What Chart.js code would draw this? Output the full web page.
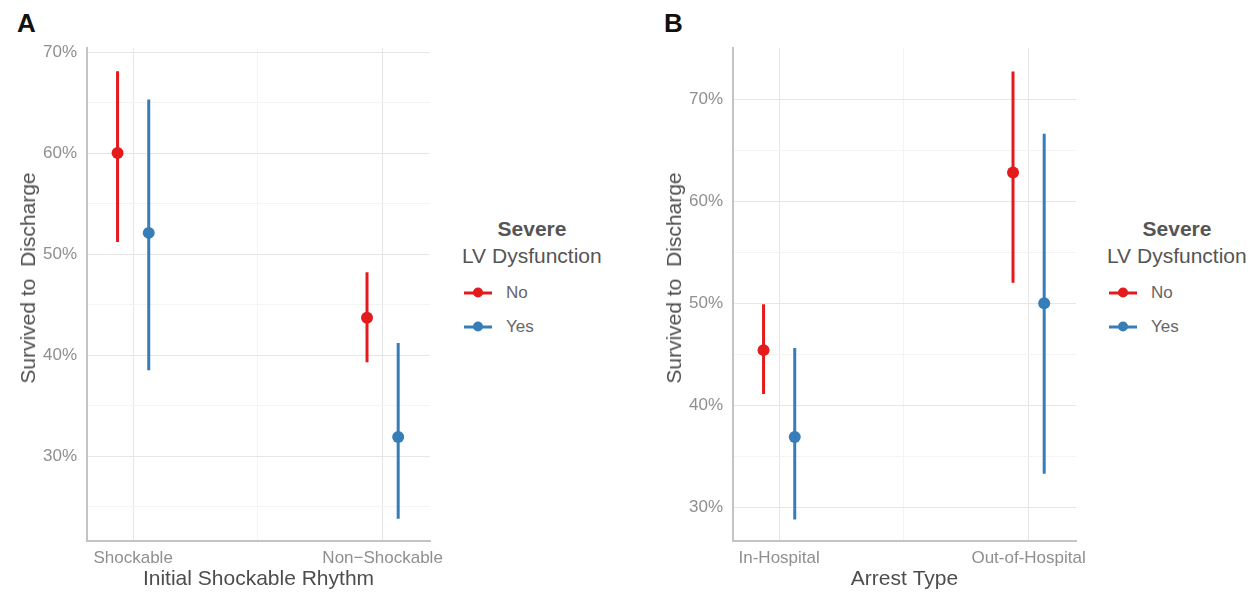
<!DOCTYPE html>
<html>
<head>
    <meta charset="UTF-8">
    <title>Survived to Discharge</title>
    <script src="https://cdn.jsdelivr.net/npm/chart.js"></script>
    <style>
        body {
            margin: 0;
            padding: 0;
            background: #fff;
            width: 1257px;
            height: 593px;
            position: relative;
            overflow: hidden;
            font-family: "Liberation Sans", Arial, sans-serif;
        }
        .panel { position: absolute; top: 0; width: 455px; height: 593px; }
        .tag { position: absolute; top: 10px; font-size: 26px; line-height: 26px; font-weight: bold; color: #111; }
        .ytitle {
            position: absolute; top: 278px; font-size: 21px; color: #4d4d4d; white-space: pre;
            transform: translate(-50%, -50%) rotate(-90deg);
        }
        .lg-title { position: absolute; font-size: 21px; color: #555; white-space: nowrap; transform: translateY(-50%); }
        .lg-title.b { font-weight: bold; transform: translate(-50%, -50%); }
        .lg-item { position: absolute; font-size: 17px; color: #666; transform: translateY(-50%); }
        .sym { position: absolute; width: 28px; height: 3px; transform: translateY(-50%); }
        .sym::after {
            content: ""; position: absolute; left: 9px; top: -4px; width: 10px; height: 10px;
            border-radius: 50%; background: inherit;
        }
    </style>
</head>
<body>
    <div class="tag" style="left:17px">A</div>
    <div class="tag" style="left:664px">B</div>

    <div class="panel" style="left:0"><canvas id="chartA" width="455" height="593"></canvas></div>
    <div class="panel" style="left:646px"><canvas id="chartB" width="455" height="593"></canvas></div>

    <div class="ytitle" style="left:28px">Survived to  Discharge</div>
    <div class="ytitle" style="left:674px">Survived to  Discharge</div>

    <div id="legendA"></div>
    <div id="legendB"></div>

    <script>
        // categories
        const rhythmCats = ['Shockable', 'Non\u2212Shockable'];
        const arrestCats = ['In-Hospital', 'Out-of-Hospital'];
        const groups = ['No', 'Yes'];
        const groupColors = ['#e41a1c', '#377eb8'];

        // panel A: initial shockable rhythm (% survived)
        const rhythmNo = [60.0, 43.7];
        const rhythmNoLo = [51.2, 39.3];
        const rhythmNoHi = [68.1, 48.2];
        const rhythmYes = [52.1, 31.9];
        const rhythmYesLo = [38.5, 23.8];
        const rhythmYesHi = [65.3, 41.2];

        // panel B: arrest type (% survived)
        const arrestNo = [45.4, 62.8];
        const arrestNoLo = [41.1, 52.0];
        const arrestNoHi = [49.9, 72.7];
        const arrestYes = [36.9, 50.0];
        const arrestYesLo = [28.8, 33.3];
        const arrestYesHi = [45.6, 66.6];

        // tick values
        const yTicksA = [25, 30, 35, 40, 45, 50, 55, 60, 65, 70];
        const yTicksB = [30, 35, 40, 45, 50, 55, 60, 65, 70];
        const xTicks = [1, 1.5, 2];

        const dodge = 0.0625;
        const tickColor = '#8f8f8f';
        const titleColor = '#4d4d4d';
        const gridMajor = '#e6e6e6';
        const gridMinor = '#f4f4f4';

        Chart.defaults.font.family = '"Liberation Sans", Arial, sans-serif';

        function buildDatasets(est, lo, hi) {
            const sets = [];
            groups.forEach((g, k) => {
                const off = k === 0 ? -dodge : dodge;
                const bars = [];
                est[k].forEach((v, i) => {
                    const x = i + 1 + off;
                    bars.push({ x: x, y: lo[k][i] }, { x: x, y: hi[k][i] }, { x: x, y: null });
                });
                sets.push({
                    label: g + ' CI',
                    data: bars,
                    showLine: true,
                    spanGaps: false,
                    borderColor: groupColors[k],
                    borderWidth: 3,
                    pointRadius: 0
                });
                sets.push({
                    label: g,
                    data: est[k].map((v, i) => ({ x: i + 1 + off, y: v })),
                    showLine: false,
                    pointRadius: 6,
                    pointHoverRadius: 6,
                    backgroundColor: groupColors[k],
                    borderWidth: 0
                });
            });
            return sets;
        }

        function makeChart(id, cats, est, lo, hi, yTicks, yMin, yMax, xTitle) {
            new Chart(document.getElementById(id), {
                type: 'scatter',
                data: { datasets: buildDatasets(est, lo, hi) },
                options: {
                    responsive: false,
                    animation: false,
                    layout: { padding: { top: 48, right: 25, left: 0, bottom: 0 } },
                    plugins: { legend: { display: false }, tooltip: { enabled: false } },
                    scales: {
                        x: {
                            type: 'linear',
                            min: 0.815,
                            max: 2.19,
                            afterBuildTicks: s => { s.ticks = xTicks.map(v => ({ value: v })); },
                            afterFit: s => { s.height = 52; },
                            ticks: {
                                autoSkip: false,
                                maxRotation: 0,
                                padding: 7,
                                color: tickColor,
                                font: { size: 17 },
                                callback: v => v === 1 ? cats[0] : (v === 2 ? cats[1] : '')
                            },
                            grid: {
                                drawTicks: false,
                                color: c => (c.tick && c.tick.value === 1.5) ? gridMinor : gridMajor
                            },
                            border: { display: true, color: '#c4c4c4', width: 2 },
                            title: {
                                display: true,
                                text: xTitle,
                                color: titleColor,
                                font: { size: 21 },
                                padding: { top: 0, bottom: 1 }
                            }
                        },
                        y: {
                            min: yMin,
                            max: yMax,
                            afterBuildTicks: s => { s.ticks = yTicks.map(v => ({ value: v })); },
                            afterFit: s => { s.width = 87; },
                            ticks: {
                                padding: 10,
                                color: tickColor,
                                font: { size: 17 },
                                callback: v => v % 10 === 0 ? v + '%' : ''
                            },
                            grid: {
                                drawTicks: false,
                                color: c => (c.tick && c.tick.value % 10 === 0) ? gridMajor : gridMinor
                            },
                            border: { display: true, color: '#c4c4c4', width: 2 }
                        }
                    }
                }
            });
        }

        makeChart('chartA', rhythmCats,
            [rhythmNo, rhythmYes], [rhythmNoLo, rhythmYesLo], [rhythmNoHi, rhythmYesHi],
            yTicksA, 21.6, 70.4, 'Initial Shockable Rhythm');
        makeChart('chartB', arrestCats,
            [arrestNo, arrestYes], [arrestNoLo, arrestYesLo], [arrestNoHi, arrestYesHi],
            yTicksB, 26.7, 75.0, 'Arrest Type');

        // legends
        function buildLegend(id, left) {
            const el = document.getElementById(id);
            let html = '<div class="lg-title b" style="left:' + (left + 70) + 'px;top:229px">Severe</div>' +
                       '<div class="lg-title" style="left:' + left + 'px;top:256px">LV Dysfunction</div>';
            groups.forEach((g, k) => {
                const y = 293 + k * 34;
                html += '<div class="sym" style="left:' + (left + 2) + 'px;top:' + y + 'px;background:' + groupColors[k] + '"></div>';
                html += '<div class="lg-item" style="left:' + (left + 44) + 'px;top:' + y + 'px">' + g + '</div>';
            });
            el.innerHTML = html;
        }
        buildLegend('legendA', 462);
        buildLegend('legendB', 1107);
    </script>
</body>
</html>
